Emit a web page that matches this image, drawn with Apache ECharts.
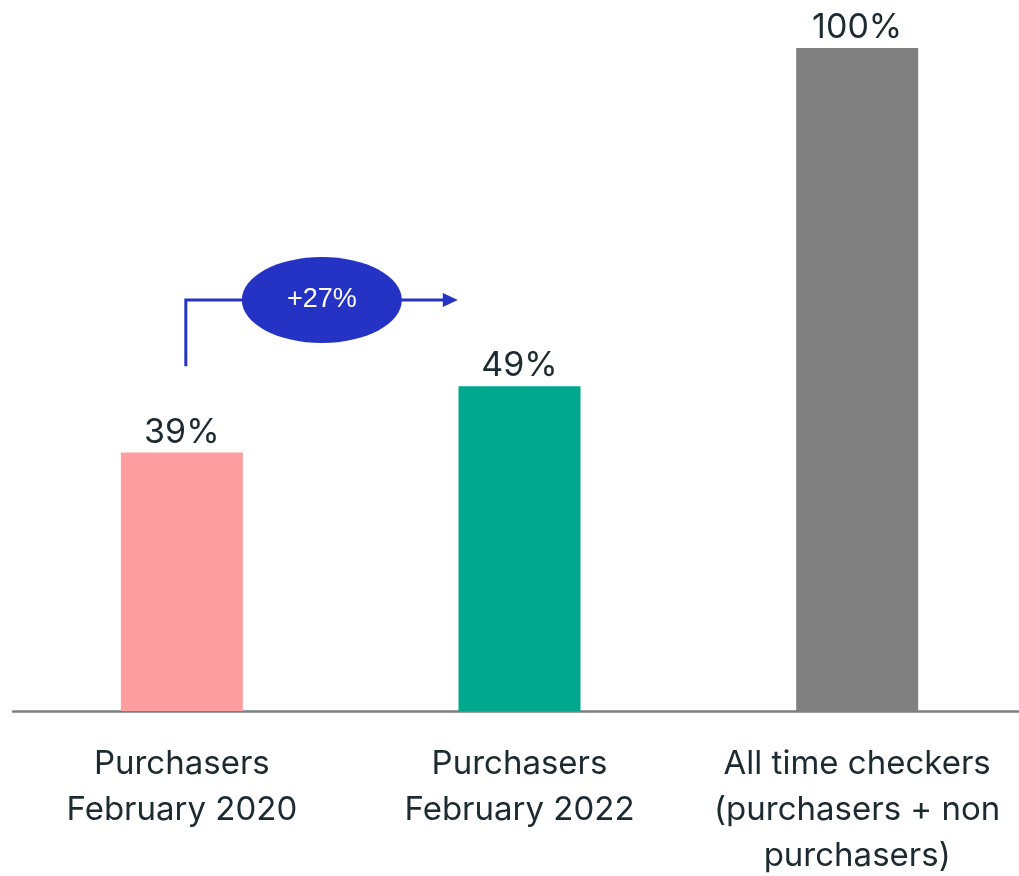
<!DOCTYPE html>
<html><head><meta charset="utf-8">
<script src="https://cdn.jsdelivr.net/npm/echarts@6/dist/echarts.min.js"></script>
<style>html,body{margin:0;padding:0;background:#fff}#c{width:1019px;height:876px}</style>
</head><body><div id="c"></div>
<script>
const categories = ['Purchasers\nFebruary 2020', 'Purchasers\nFebruary 2022', 'All time checkers\n(purchasers + non\npurchasers)'];
const values = [39, 49, 100];
const barColors = ['#FF9EA0', '#00A88E', '#808080'];
const changeLabel = '+27%';

const chart = echarts.init(document.getElementById('c'));
const textColor = '#1d2a2f';
chart.setOption({
  animation: false,
  grid: { left: 13, top: 48, right: -7, bottom: 165, containLabel: false, outerBoundsMode: 'none' },
  xAxis: {
    type: 'category', data: categories,
    axisLine: { show: true, lineStyle: { color: '#7b7f80', width: 2.5 } },
    axisTick: { show: false },
    axisLabel: { color: textColor, fontFamily: 'Inter', fontSize: 33, lineHeight: 46, margin: 30, interval: 0 }
  },
  yAxis: { type: 'value', min: 0, max: 100, show: false, splitLine: { show: false } },
  series: [{
    type: 'bar', barWidth: 122,
    data: values.map((v, i) => ({ value: v, itemStyle: { color: barColors[i] } })),
    label: { show: true, position: 'top', distance: 3, formatter: p => p.value + '%', color: textColor, fontFamily: 'Inter', fontSize: 34 },
    z: 1
  }]
});

const p0 = chart.convertToPixel({ gridIndex: 0 }, [0, 52]);
const pTop = chart.convertToPixel({ gridIndex: 0 }, [0, 62]);
const x0 = p0[0] + 4, yb = p0[1], yt = pTop[1];
const xTip = x0 + 272;
const cx = x0 + 136;
const blue = '#2433c4';
chart.setOption({
  graphic: [
    { type: 'polyline', shape: { points: [[x0, yb], [x0, yt], [xTip - 14, yt]] }, style: { stroke: blue, lineWidth: 3, fill: null }, z: 10 },
    { type: 'polygon', shape: { points: [[xTip - 15, yt - 7], [xTip, yt], [xTip - 15, yt + 7]] }, style: { fill: blue }, z: 10 },
    { type: 'ellipse', shape: { cx: cx, cy: yt, rx: 80, ry: 43 }, style: { fill: blue }, z: 11 },
    { type: 'text', x: cx, y: yt, style: { text: changeLabel, fill: '#fff', font: '27px "Liberation Sans", Arial, sans-serif', align: 'center', verticalAlign: 'middle' }, z: 12 }
  ]
});
</script></body></html>
